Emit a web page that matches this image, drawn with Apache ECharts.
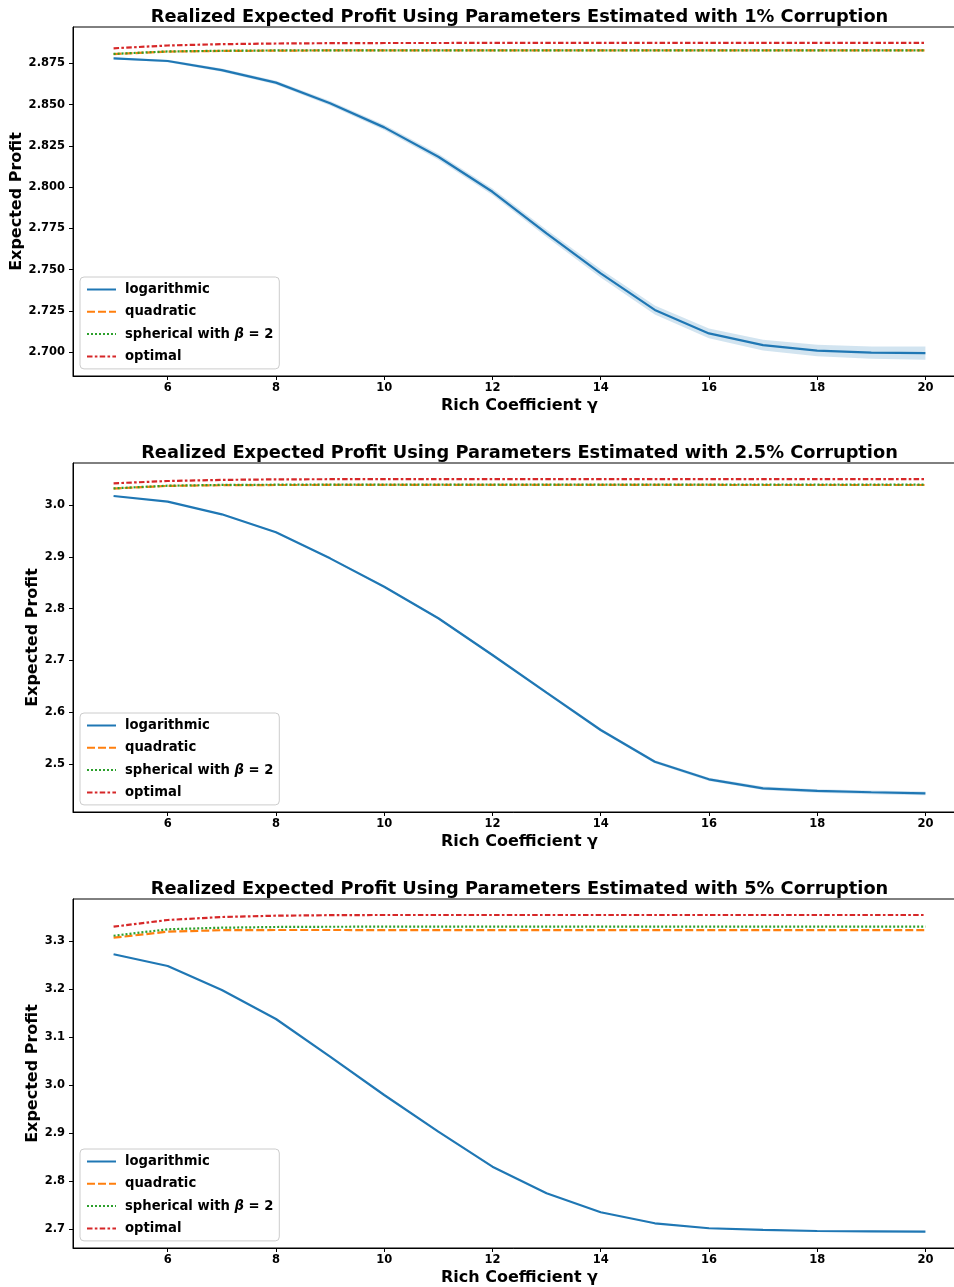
<!DOCTYPE html>
<html>
<head>
<meta charset="utf-8">
<script src="https://cdn.jsdelivr.net/npm/echarts@6/dist/echarts.min.js"></script>
<style>html,body{margin:0;padding:0;background:#fff;}#c{width:954px;height:1287px;}</style>
</head>
<body>
<div id="c"></div>
<script>
// ---------- data ----------
const gammas = [5,6,7,8,9,10,11,12,13,14,15,16,17,18,19,20];
const xTicks = [6,8,10,12,14,16,18,20];

const titles = [
  'Realized Expected Profit Using Parameters Estimated with 1% Corruption',
  'Realized Expected Profit Using Parameters Estimated with 2.5% Corruption',
  'Realized Expected Profit Using Parameters Estimated with 5% Corruption'
];

// panel 1 (1% corruption)
const log1  = [2.8780,2.8764,2.8709,2.8633,2.8508,2.8362,2.8184,2.7972,2.7720,2.7478,2.7256,2.7114,2.7043,2.7010,2.6998,2.6994];
const logBand1 = [0.0005,0.0008,0.0010,0.0012,0.0014,0.0016,0.0018,0.0020,0.0022,0.0025,0.0027,0.0030,0.0033,0.0035,0.0037,0.0040];
const quad1 = [2.8806,2.8821,2.8825,2.8827,2.8828,2.8828,2.8828,2.8828,2.8828,2.8828,2.8828,2.8828,2.8828,2.8828,2.8828,2.8828];
const sph1  = [2.8807,2.8822,2.8826,2.8828,2.8829,2.8829,2.8829,2.8829,2.8829,2.8829,2.8829,2.8829,2.8829,2.8829,2.8829,2.8829];
const opt1  = [2.8841,2.8858,2.8866,2.8870,2.8872,2.8873,2.8873,2.8874,2.8874,2.8874,2.8874,2.8874,2.8874,2.8874,2.8874,2.8874];
const yTicks1 = [2.700,2.725,2.750,2.775,2.800,2.825,2.850,2.875];

// panel 2 (2.5% corruption)
const log2  = [3.0174,3.0064,2.9820,2.9473,2.8970,2.8423,2.7813,2.7104,2.6377,2.5656,2.5044,2.4704,2.4530,2.4479,2.4454,2.4434];
const logBand2 = [0.0008,0.0010,0.0012,0.0014,0.0016,0.0018,0.0020,0.0022,0.0025,0.0028,0.0030,0.0032,0.0034,0.0035,0.0036,0.0037];
const quad2 = [3.0318,3.0369,3.0382,3.0386,3.0387,3.0387,3.0387,3.0387,3.0387,3.0387,3.0387,3.0387,3.0386,3.0386,3.0386,3.0386];
const sph2  = [3.0322,3.0373,3.0388,3.0392,3.0393,3.0393,3.0393,3.0393,3.0393,3.0393,3.0393,3.0393,3.0393,3.0393,3.0393,3.0393];
const opt2  = [3.0419,3.0463,3.0485,3.0495,3.0498,3.0500,3.0500,3.0500,3.0500,3.0500,3.0500,3.0500,3.0500,3.0500,3.0500,3.0500];
const yTicks2 = [2.5,2.6,2.7,2.8,2.9,3.0];

// panel 3 (5% corruption)
const log3  = [3.2723,3.2479,3.1979,3.1375,3.0590,2.9792,2.9027,2.8298,2.7744,2.7348,2.7119,2.7015,2.6980,2.6958,2.6952,2.6944];
const logBand3 = [0.0005,0.0006,0.0007,0.0008,0.0009,0.0010,0.0010,0.0010,0.0010,0.0010,0.0010,0.0010,0.0010,0.0010,0.0010,0.0010];
const quad3 = [3.3069,3.3194,3.3225,3.3229,3.3229,3.3228,3.3228,3.3227,3.3227,3.3226,3.3226,3.3225,3.3225,3.3225,3.3225,3.3225];
const sph3  = [3.3110,3.3244,3.3277,3.3292,3.3297,3.3298,3.3298,3.3298,3.3298,3.3298,3.3298,3.3298,3.3298,3.3298,3.3298,3.3298];
const opt3  = [3.3298,3.3438,3.3500,3.3527,3.3538,3.3542,3.3542,3.3542,3.3542,3.3542,3.3542,3.3542,3.3542,3.3542,3.3542,3.3542];
const yTicks3 = [2.7,2.8,2.9,3.0,3.1,3.2,3.3];

const seriesNames = ['logarithmic','quadratic','spherical with β = 2','optimal'];

// ---------- chart ----------
const FONT = 'DejaVu Sans';
const colors = ['#1f77b4','#ff7f0e','#2ca02c','#d62728'];
const panels = [
  {log: log1, band: logBand1, quad: quad1, sph: sph1, opt: opt1, ticks: yTicks1, min: 2.6856, max: 2.8970, dec: 3, top: 27, nameGap: 48},
  {log: log2, band: logBand2, quad: quad2, sph: sph2, opt: opt2, ticks: yTicks2, min: 2.4073, max: 3.0811, dec: 1, top: 463, nameGap: 32},
  {log: log3, band: logBand3, quad: quad3, sph: sph3, opt: opt3, ticks: yTicks3, min: 2.6604, max: 3.3875, dec: 1, top: 899, nameGap: 32}
];
const H = 349, LEFT = 73, W = 893;

const pairs = arr => gammas.map((g,i)=>[g, arr[i]]);

const option = {
  animation: false,
  backgroundColor: '#fff',
  title: [], grid: [], xAxis: [], yAxis: [], legend: [], series: []
};

panels.forEach((p, k) => {
  option.title.push({
    text: titles[k], left: LEFT + W/2, textAlign: 'center', top: p.top - 19, padding: 0,
    textStyle: {fontFamily: FONT, fontWeight: 'bold', fontSize: 17.8, color: '#000'}
  });
  option.grid.push({left: LEFT, top: p.top, width: W, height: H, outerBoundsMode: 'none', containLabel: false,
    show: true, borderColor: '#000', borderWidth: 1, backgroundColor: 'transparent'});
  option.xAxis.push({
    type: 'value', gridIndex: k, min: 4.25, max: 20.75,
    name: 'Rich Coefficient γ', nameLocation: 'middle', nameGap: 22, nameMoveOverlap: false,
    nameTextStyle: {fontFamily: FONT, fontWeight: 'bold', fontSize: 16, color: '#000'},
    axisLine: {show: true, onZero: false, lineStyle: {color: '#000', width: 1}},
    axisTick: {show: true, length: 4, customValues: xTicks, lineStyle: {color: '#000'}},
    axisLabel: {customValues: xTicks, margin: 6, fontFamily: FONT, fontWeight: 'bold', fontSize: 11.5, color: '#000'},
    splitLine: {show: false}
  });
  option.yAxis.push({
    type: 'value', gridIndex: k, min: p.min, max: p.max,
    name: 'Expected Profit', nameLocation: 'middle', nameGap: p.nameGap, nameMoveOverlap: false,
    nameTextStyle: {fontFamily: FONT, fontWeight: 'bold', fontSize: 16, color: '#000'},
    axisLine: {show: true, onZero: false, lineStyle: {color: '#000', width: 1}},
    axisTick: {show: true, length: 4, customValues: p.ticks, lineStyle: {color: '#000'}},
    axisLabel: {customValues: p.ticks, margin: 8, fontFamily: FONT, fontWeight: 'bold', fontSize: 11.5, color: '#000',
      formatter: v => v.toFixed(p.dec)},
    splitLine: {show: false}
  });
  option.legend.push({
    data: seriesNames, orient: 'vertical', left: 80, top: p.top + 250,
    itemWidth: 29, itemHeight: 14, itemGap: 9.3,
    padding: [6, 6, 6, 6],
    itemStyle: {opacity: 0},
    backgroundColor: 'rgba(255,255,255,0.8)', borderColor: '#cccccc', borderWidth: 1, borderRadius: 4,
    textStyle: {fontFamily: FONT, fontWeight: 'bold', fontSize: 13.2, color: '#000', padding: [0,0,0,4],
      rich: {b: {fontFamily: FONT, fontWeight: 'bold', fontStyle: 'italic', fontSize: 13.2, color: '#000'}}},
    formatter: n => n === 'spherical with β = 2' ? 'spherical with {b|β} = 2' : n,
    selectedMode: false
  });
  // confidence band of logarithmic: one polygon through library coordinates
  const bandData = gammas.map((g,i)=>[g, p.log[i] - p.band[i], p.log[i] + p.band[i]]);
  option.series.push({
    type: 'custom', xAxisIndex: k, yAxisIndex: k, silent: true, z: 1,
    data: bandData,
    encode: {x: 0, y: [1, 2]},
    renderItem: (params, api) => {
      if (params.dataIndex !== 0) return null;
      const up = bandData.map(d => api.coord([d[0], d[2]]));
      const lo = bandData.map(d => api.coord([d[0], d[1]])).reverse();
      return {type: 'polygon', shape: {points: up.concat(lo)}, style: {fill: 'rgba(31,119,180,0.2)', stroke: 'none'}};
    }
  });
  const lines = [
    {name: seriesNames[0], data: p.log, type: 'solid'},
    {name: seriesNames[1], data: p.quad, type: [8, 3]},
    {name: seriesNames[2], data: p.sph, type: [2, 2]},
    {name: seriesNames[3], data: p.opt, type: [5.5, 2.3, 2.6, 2.3]}
  ];
  lines.forEach((l, j) => {
    option.series.push({
      name: l.name, type: 'line', xAxisIndex: k, yAxisIndex: k, symbol: 'none',
      data: pairs(l.data), color: colors[j],
      lineStyle: {color: colors[j], width: 2.2, type: l.type}, z: 3 + j
    });
  });
});

const chart = echarts.init(document.getElementById('c'), null, {renderer: 'canvas'});
chart.setOption(option);
</script>
</body>
</html>
